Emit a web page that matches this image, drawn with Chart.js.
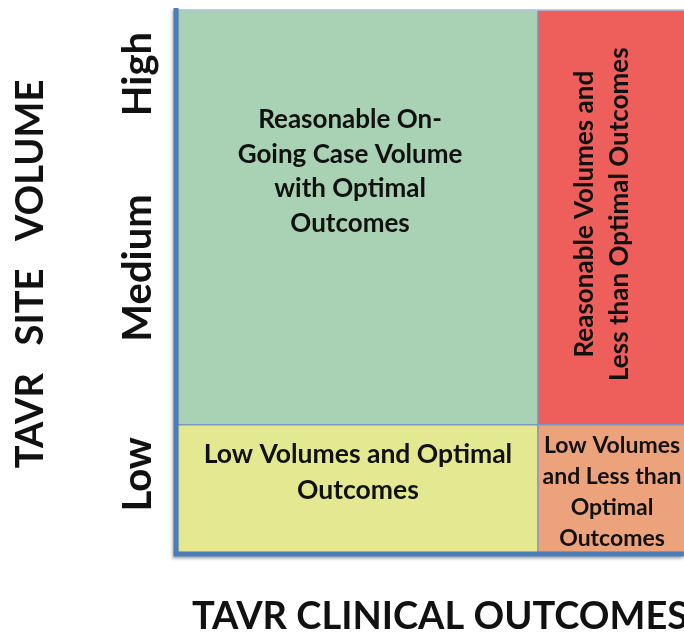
<!DOCTYPE html>
<html>
<head>
<meta charset="utf-8">
<script src="https://cdn.jsdelivr.net/npm/chart.js@4/dist/chart.umd.min.js"></script>
<style>
  html, body { margin: 0; padding: 0; background: #fff; }
  canvas { display: block; }
</style>
</head>
<body>
<canvas id="matrix" width="684" height="635"></canvas>
<script>
// x: clinical outcomes (optimal | less than optimal), y: site volume (low | medium-high)
const outcomeBounds = [0, 1, 1.406];
const volumeBounds = [0, 23.6, 100];
const volumeTicks = [14.5, 52.5, 88.2];
const volumeTickLabels = ['Low', 'Medium', 'High'];

const cellNames = ['optimalHigh', 'lessHigh', 'optimalLow', 'lessLow'];
const cellColors = ['#a9d1b3', '#ee5f5b', '#e3e891', '#eca27b'];
const cellText = [
    ['Reasonable On-', 'Going Case Volume', 'with Optimal', 'Outcomes'],
    ['Reasonable Volumes and', 'Less than Optimal Outcomes'],
    ['Low Volumes and Optimal', 'Outcomes'],
    ['Low Volumes', 'and Less than', 'Optimal', 'Outcomes']
];
// where each cell's text block is centred, in data units
const textAnchorX = [0.478, 1.178, 0.5, 1.206];
const textAnchorY = [70.2, 62.4, 14.9, 11.2];

const xTitle = 'TAVR CLINICAL OUTCOMES';
const yTitle = 'TAVR   SITE   VOLUME';

const FONT = 'Lato, "Open Sans", sans-serif';

// cell i spans outcome column (i % 2) and volume row (high rows first)
const cellDatasets = cellNames.map((name, i) => {
    const col = i % 2;
    const row = i < 2 ? 1 : 0;
    return {
        label: name,
        data: [
            { x: outcomeBounds[col], y: volumeBounds[row + 1] },
            { x: outcomeBounds[col + 1], y: volumeBounds[row + 1] }
        ],
        showLine: true,
        borderWidth: 0,
        pointRadius: 0,
        backgroundColor: cellColors[i],
        fill: { value: volumeBounds[row] }
    };
});

const matrixDecor = {
    id: 'matrixDecor',
    afterDatasetsDraw(chart) {
        const { ctx, chartArea, scales } = chart;
        const xs = scales.x, ys = scales.y;
        ctx.save();

        // thin dividers between the cells
        ctx.strokeStyle = '#7b98c0';
        ctx.lineWidth = 1.5;
        const xMid = xs.getPixelForValue(outcomeBounds[1]);
        const yMid = ys.getPixelForValue(volumeBounds[1]);
        ctx.beginPath();
        ctx.moveTo(xMid, chartArea.top);
        ctx.lineTo(xMid, chartArea.bottom);
        ctx.moveTo(chartArea.left, yMid);
        ctx.lineTo(chartArea.right, yMid);
        ctx.stroke();

        // top edge
        ctx.strokeStyle = '#a9c1df';
        ctx.lineWidth = 1.5;
        ctx.beginPath();
        ctx.moveTo(chartArea.left, chartArea.top);
        ctx.lineTo(chartArea.right, chartArea.top);
        ctx.stroke();

        // axis lines with a soft shadow
        ctx.shadowColor = 'rgba(0,0,0,0.35)';
        ctx.shadowBlur = 3;
        ctx.shadowOffsetX = -1;
        ctx.shadowOffsetY = 2;
        ctx.strokeStyle = '#4a7ebb';
        ctx.lineWidth = 5;
        ctx.beginPath();
        ctx.moveTo(chartArea.left - 2, chartArea.top - 2);
        ctx.lineTo(chartArea.left - 2, chartArea.bottom + 1);
        ctx.lineTo(chartArea.right, chartArea.bottom + 1);
        ctx.stroke();
        ctx.shadowColor = 'transparent';

        // cell texts
        ctx.fillStyle = '#111';
        ctx.textAlign = 'center';
        ctx.textBaseline = 'middle';
        const fontSizes = [26, 26, 26.5, 23];
        const lineHeights = [34.5, 35, 36, 31];
        const rotated = [false, true, false, false];
        cellText.forEach((lines, i) => {
            const cx = xs.getPixelForValue(textAnchorX[i]);
            const cy = ys.getPixelForValue(textAnchorY[i]);
            ctx.font = 'bold ' + fontSizes[i] + 'px ' + FONT;
            ctx.save();
            ctx.translate(cx, cy);
            if (rotated[i]) ctx.rotate(-Math.PI / 2);
            const lh = lineHeights[i];
            const start = -(lines.length - 1) * lh / 2;
            lines.forEach((t, k) => ctx.fillText(t, 0, start + k * lh));
            ctx.restore();
        });

        // volume tick labels, rotated like the axis
        ctx.font = 'bold 40px ' + FONT;
        volumeTicks.forEach((v, i) => {
            ctx.save();
            ctx.translate(chartArea.left - 40, ys.getPixelForValue(v));
            ctx.rotate(-Math.PI / 2);
            ctx.fillText(volumeTickLabels[i], 0, 0);
            ctx.restore();
        });

        // axis titles
        ctx.font = 'bold 38px ' + FONT;
        ctx.save();
        ctx.translate(chartArea.left - 147, chartArea.top + 264);
        ctx.rotate(-Math.PI / 2);
        ctx.fillText(yTitle, 0, 0);
        ctx.restore();

        ctx.fillText(xTitle, 440, chartArea.bottom + 64);
        ctx.restore();
    }
};

new Chart(document.getElementById('matrix'), {
    type: 'scatter',
    data: { datasets: cellDatasets },
    options: {
        responsive: false,
        animation: false,
        devicePixelRatio: 1,
        layout: { padding: { left: 178, top: 10, right: 0, bottom: 82 } },
        plugins: {
            legend: { display: false },
            tooltip: { enabled: false }
        },
        scales: {
            x: { type: 'linear', min: outcomeBounds[0], max: outcomeBounds[2], display: false },
            y: { type: 'linear', min: volumeBounds[0], max: volumeBounds[2], display: false }
        }
    },
    plugins: [matrixDecor]
});
</script>
</body>
</html>
